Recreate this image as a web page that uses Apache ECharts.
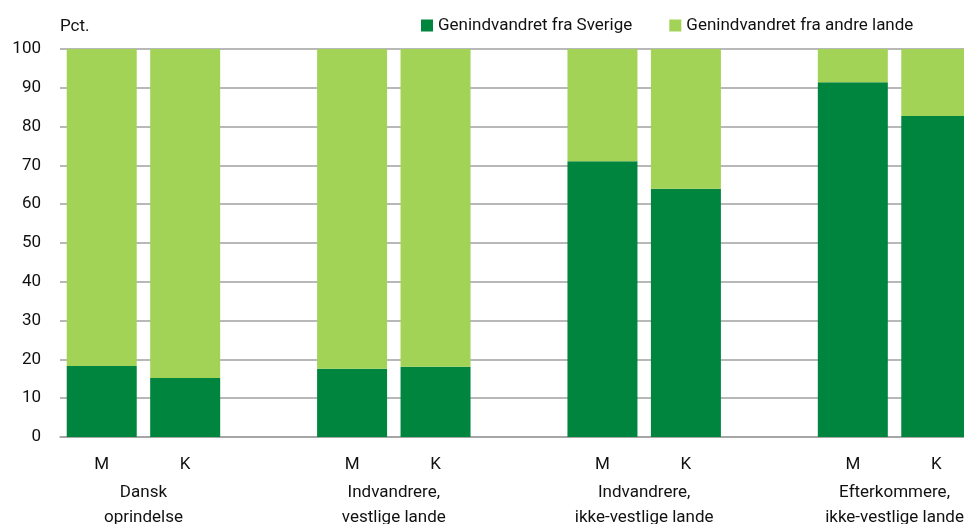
<!DOCTYPE html>
<html>
<head>
<meta charset="utf-8">
<script src="https://cdn.jsdelivr.net/npm/echarts@6/dist/echarts.min.js"></script>
<style>
  html, body { margin: 0; padding: 0; background: #fff; }
  #chart { width: 964px; height: 524px; }
</style>
</head>
<body>
<div id="chart"></div>
<script>
// kategorier (tomme pladser giver mellemrum mellem grupperne)
var categories = ["M", "K", "", "M", "K", "", "M", "K", "", "M", "K"];
// gruppenavne, placeret mellem M og K
var groupLabels = ["", "Dansk\noprindelse", "", "", "Indvandrere,\nvestlige lande", "", "",
  "Indvandrere,\nikke-vestlige lande", "", "", "Efterkommere,\nikke-vestlige lande", ""];
var seriesNames = ["Genindvandret fra Sverige", "Genindvandret fra andre lande"];
var sverige = [18.3, 15.2, null, 17.6, 18.1, null, 71.1, 64.0, null, 91.4, 82.7];
var andre = [81.7, 84.8, null, 82.4, 81.9, null, 28.9, 36.0, null, 8.6, 17.3];
var yTicks = [0, 100, 10];

var font = "Roboto";
var chart = echarts.init(document.getElementById("chart"));
var option = {
  animation: false,
  textStyle: { fontFamily: font },
  legend: {
    left: 421,
    top: 17,
    padding: 0,
    itemWidth: 12,
    itemHeight: 12,
    itemGap: 37,
    icon: "rect",
    textStyle: { fontSize: 17, color: "#111", fontFamily: font },
    data: seriesNames
  },
  // diagrammet er beskaaret til hoejre, saa plotomraadet gaar ud over kanten
  grid: { left: 60, top: 49, width: 918, height: 388, containLabel: false, outerBoundsMode: "none" },
  xAxis: [
    {
      type: "category",
      data: categories,
      axisLine: { show: true, lineStyle: { color: "#a0a0a0", width: 1.5 } },
      axisTick: { show: false },
      axisLabel: { interval: 0, margin: 19, fontSize: 17, color: "#111" }
    },
    {
      type: "category",
      position: "bottom",
      boundaryGap: false,
      data: groupLabels,
      axisLine: { show: false },
      axisTick: { show: false },
      axisLabel: { interval: 0, margin: 43, fontSize: 17, lineHeight: 25, color: "#111", align: "center" }
    }
  ],
  yAxis: {
    type: "value",
    min: yTicks[0],
    max: yTicks[1],
    interval: yTicks[2],
    name: "Pct.",
    nameGap: 14,
    nameTextStyle: { fontSize: 17, color: "#111", align: "left" },
    axisLine: { show: false },
    axisTick: { show: false },
    axisLabel: { margin: 19, fontSize: 17, color: "#111" },
    splitLine: { lineStyle: { color: "#a0a0a0", width: 1.5 } }
  },
  series: [
    {
      name: seriesNames[0],
      type: "bar",
      stack: "total",
      barWidth: 70,
      data: sverige,
      itemStyle: { color: "#00853f" }
    },
    {
      name: seriesNames[1],
      type: "bar",
      stack: "total",
      barWidth: 70,
      data: andre,
      itemStyle: { color: "#a2d356" }
    }
  ]
};
chart.setOption(option);
</script>
</body>
</html>
